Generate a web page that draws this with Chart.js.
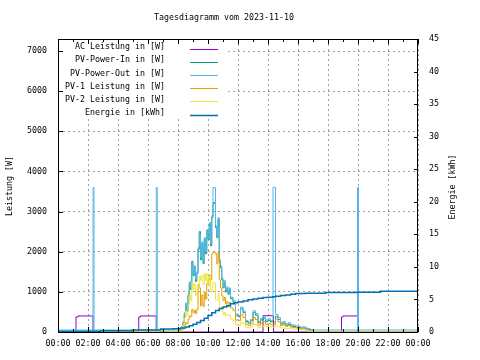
<!DOCTYPE html>
<html>
<head>
<meta charset="utf-8">
<script src="https://cdn.jsdelivr.net/npm/chart.js@4/dist/chart.umd.min.js"></script>
<style>
  html, body { margin: 0; padding: 0; background: #fff; }
  canvas { display: block; }
</style>
</head>
<body>
<canvas id="tagesChart" width="480" height="360"></canvas>
<script>
// --- data ---
const chartTitle = 'Tagesdiagramm vom 2023-11-10';
const seriesNames = ['AC Leistung in [W]', 'PV-Power-In in [W]', 'PV-Power-Out in [W]',
    'PV-1 Leistung in [W]', 'PV-2 Leistung in [W]', 'Energie in [kWh]'];
const seriesColors = ['#9400d3', '#009e73', '#56b4e9', '#e69f00', '#f0e442', '#0072b2'];

const powerTicks = [0, 1000, 2000, 3000, 4000, 5000, 6000, 7000];
const energyTicks = [0, 5, 10, 15, 20, 25, 30, 35, 40, 45];
const hourTicks = [0, 2, 4, 6, 8, 10, 12, 14, 16, 18, 20, 22, 24];

// daytime samples
const dayTimes = ['08:00', '08:05', '08:10', '08:15', '08:20', '08:25', '08:30', '08:35', '08:40', '08:45',
    '08:50', '08:55', '09:00', '09:05', '09:10', '09:15', '09:20', '09:25', '09:30', '09:35',
    '09:40', '09:45', '09:50', '09:55', '10:00', '10:05', '10:10', '10:15', '10:20', '10:25',
    '10:30', '10:35', '10:40', '10:45', '10:50', '10:55', '11:00', '11:05', '11:10', '11:15',
    '11:20', '11:25', '11:30', '11:40', '11:50', '12:00', '12:10', '12:20', '12:30', '12:40',
    '12:50', '13:00', '13:10', '13:20', '13:30', '13:40', '13:50', '14:00', '14:10', '14:20',
    '14:30', '14:40', '14:50', '15:00', '15:10', '15:20', '15:30', '15:40', '15:50', '16:00',
    '16:10', '16:20', '16:30', '16:40', '16:50', '17:00'];
const pvOutDay = [60, 70, 90, 140, 260, 480, 720, 560, 950, 1250,
    1100, 1700, 1450, 1650, 1300, 1500, 2100, 2450, 1850, 2250,
    1750, 2350, 2000, 2550, 2350, 2730, 2200, 2900, 3600, 3600,
    2650, 2400, 2850, 1800, 1650, 1350, 1150, 1280, 1050, 1130,
    980, 1100, 870, 780, 450, 410, 620, 520, 290, 250,
    310, 530, 460, 260, 340, 380, 300, 330, 290, 3600,
    440, 360, 240, 260, 200, 230, 180, 170, 150, 140,
    120, 130, 100, 80, 60, 50];
const pvInDay = [20, 40, 60, 110, 230, 440, 680, 520, 900, 1200,
    1060, 1760, 1400, 1600, 1260, 1460, 2060, 2500, 1800, 2200,
    1710, 2300, 1950, 2520, 2300, 2680, 2150, 2850, 3230, 3200,
    2600, 2350, 2800, 1750, 1600, 1300, 1100, 1230, 1000, 1080,
    940, 1050, 830, 740, 420, 380, 580, 480, 260, 220,
    280, 490, 420, 230, 300, 340, 260, 290, 250, 250,
    390, 310, 200, 220, 170, 190, 150, 140, 120, 110,
    100, 100, 80, 60, 30, 0];
const pv1Day = [10, 20, 30, 50, 90, 170, 240, 200, 320, 400,
    380, 560, 480, 540, 460, 560, 1180, 1100, 650, 920,
    640, 980, 820, 1200, 1300, 1420, 1300, 1950, 1990, 1980,
    1950, 1700, 1990, 1300, 1100, 900, 780, 860, 700, 760,
    640, 740, 600, 540, 300, 280, 430, 360, 190, 160,
    200, 360, 310, 170, 220, 250, 190, 210, 180, 180,
    320, 250, 160, 180, 140, 160, 120, 110, 100, 90,
    70, 80, 50, 30, 10, 0];
const pv2Day = [10, 20, 40, 100, 190, 340, 520, 400, 680, 920,
    780, 1240, 1050, 1200, 910, 1020, 1070, 1380, 1290, 1410,
    1190, 1460, 1280, 1450, 1150, 1400, 990, 1050, 1240, 1220,
    800, 800, 960, 580, 620, 520, 430, 480, 410, 430,
    400, 420, 320, 290, 180, 160, 230, 200, 120, 110,
    130, 200, 180, 110, 140, 150, 130, 140, 130, 120,
    150, 130, 100, 100, 80, 90, 80, 70, 60, 60,
    50, 50, 40, 30, 20, 0];

// night values and spikes
const outNightTimes = ['00:00', '02:20', '02:24', '06:33', '06:37', '19:58', '20:02', '24:00'];
const outNightValues = [50, 3600, 50, 3600, 50, 3600, 50, 50];
const pvNightTimes = ['00:00', '24:00'];
const pvNightValues = [0, 0];

const acTimes = ['00:00', '01:12', '01:20', '02:20', '05:23', '05:30', '06:33', '13:40', '14:22',
    '18:54', '19:00', '19:58', '24:00'];
const acValues = [0, 375, 400, 0, 375, 400, 0, 405, 0, 375, 400, 0, 0];

const energyTimes = ['00:00', '02:50', '05:00', '06:50', '07:40', '08:10', '08:30', '08:45', '09:00',
    '09:15', '09:30', '09:45', '10:00', '10:15', '10:30', '10:45', '11:00', '11:15', '11:30',
    '11:45', '12:00', '12:20', '12:40', '13:00', '13:20', '13:40', '14:00', '14:20', '14:30',
    '14:50', '15:10', '15:30', '15:50', '16:30', '17:50', '19:55', '21:30', '24:00'];
const energyValues = [0.1, 0.2, 0.3, 0.45, 0.5, 0.6, 0.75, 0.95, 1.2,
    1.45, 1.75, 2.1, 2.55, 2.95, 3.3, 3.6, 3.85, 4.05, 4.35,
    4.5, 4.6, 4.75, 4.95, 5.05, 5.2, 5.3, 5.35, 5.4, 5.5,
    5.6, 5.7, 5.8, 5.9, 5.95, 6.05, 6.1, 6.25, 6.25];

// --- helpers ---
function toHours(t) {
    const [h, m] = t.split(':').map(Number);
    return h + m / 60;
}

function points(times, values) {
    return times.map((t, i) => ({ x: toHours(t), y: values[i] }));
}

function merged(timesA, valuesA, timesB, valuesB) {
    return points(timesA, valuesA).concat(points(timesB, valuesB)).sort((a, b) => a.x - b.x);
}

const monoFont = '"DejaVu Sans Mono", "Liberation Mono", monospace';
const fontSize = 8.3;

function dataset(idx, data, axis, width) {
    return {
        label: seriesNames[idx],
        data: data,
        yAxisID: axis,
        borderColor: seriesColors[idx],
        backgroundColor: seriesColors[idx],
        borderWidth: width,
        pointRadius: 0,
        stepped: true,
        fill: false,
        order: 6 - idx
    };
}

// draws title, axis titles, opaque key, border and tics like the original plot
const framePlugin = {
    id: 'framePlugin',
    beforeDatasetsDraw(chart) {
        const { ctx, chartArea: a } = chart;
        ctx.save();
        ctx.fillStyle = '#ffffff';
        ctx.fillRect(a.left + 1, a.top + 1, 224 - a.left, 117 - a.top);
        ctx.restore();
    },
    afterDraw(chart) {
        const { ctx, chartArea: a, scales } = chart;
        ctx.save();
        ctx.font = fontSize + 'px ' + monoFont;
        ctx.fillStyle = '#000';

        // title
        ctx.textAlign = 'center';
        ctx.textBaseline = 'middle';
        ctx.fillText(chartTitle, 224, 18);

        // axis titles (both read bottom to top)
        ctx.save();
        ctx.translate(10, 186);
        ctx.rotate(-Math.PI / 2);
        ctx.fillText('Leistung [W]', 0, 0);
        ctx.restore();
        ctx.save();
        ctx.translate(453, 187);
        ctx.rotate(-Math.PI / 2);
        ctx.fillText('Energie [kWh]', 0, 0);
        ctx.restore();

        // key
        ctx.textAlign = 'right';
        seriesNames.forEach((name, i) => {
            const y = 47 + i * 13.2;
            ctx.fillStyle = '#000';
            ctx.fillText(name, 165, y);
            ctx.strokeStyle = seriesColors[i];
            ctx.lineWidth = i === 5 ? 1.5 : 1;
            ctx.beginPath();
            ctx.moveTo(190, Math.round(y + 1.5) + 0.5);
            ctx.lineTo(218, Math.round(y + 1.5) + 0.5);
            ctx.stroke();
        });

        // border
        ctx.strokeStyle = '#000';
        ctx.lineWidth = 1;
        ctx.strokeRect(a.left + 0.5, a.top + 0.5, a.right - a.left - 1, a.bottom - a.top);

        ctx.beginPath();
        powerTicks.forEach(v => {
            const y = Math.round(scales.y.getPixelForValue(v)) + 0.5;
            ctx.moveTo(a.left, y);
            ctx.lineTo(a.left + 5, y);
        });
        energyTicks.forEach(v => {
            const y = Math.round(scales.y2.getPixelForValue(v)) + 0.5;
            ctx.moveTo(a.right, y);
            ctx.lineTo(a.right - 4, y);
        });
        for (let h = 0; h <= 24; h++) {
            const x = Math.round(scales.x.getPixelForValue(h)) + 0.5;
            const len = h % 2 === 0 ? 5 : 3;
            ctx.moveTo(x, a.bottom);
            ctx.lineTo(x, a.bottom - len);
            ctx.moveTo(x, a.top);
            ctx.lineTo(x, a.top + len);
        }
        ctx.stroke();
        ctx.restore();
    }
};

const tickFont = { family: monoFont, size: fontSize };

new Chart(document.getElementById('tagesChart').getContext('2d'), {
    type: 'line',
    data: {
        datasets: [
            dataset(0, points(acTimes, acValues), 'y', 1),
            dataset(1, merged(dayTimes, pvInDay, pvNightTimes, pvNightValues), 'y', 1),
            dataset(2, merged(dayTimes, pvOutDay, outNightTimes, outNightValues), 'y', 1),
            dataset(3, merged(dayTimes, pv1Day, pvNightTimes, pvNightValues), 'y', 1),
            dataset(4, merged(dayTimes, pv2Day, pvNightTimes, pvNightValues), 'y', 1),
            dataset(5, points(energyTimes, energyValues), 'y2', 1.5)
        ]
    },
    options: {
        responsive: false,
        animation: false,
        layout: { padding: { top: 39, left: 0, right: 0, bottom: 0 } },
        plugins: {
            legend: { display: false },
            title: { display: false },
            tooltip: { enabled: false }
        },
        scales: {
            x: {
                type: 'linear',
                min: 0,
                max: 24,
                afterBuildTicks: s => { s.ticks = hourTicks.map(v => ({ value: v })); },
                ticks: {
                    font: tickFont,
                    color: '#000',
                    padding: 7,
                    maxRotation: 0,
                    autoSkip: false,
                    callback: v => String(v % 24).padStart(2, '0') + ':00'
                },
                grid: { color: '#a0a0a0', lineWidth: 1, drawTicks: false },
                border: { display: false, dash: [2, 3] },
                afterFit: s => { s.height = 28; }
            },
            y: {
                position: 'left',
                min: 0,
                max: 7300,
                afterBuildTicks: s => { s.ticks = powerTicks.map(v => ({ value: v })); },
                ticks: { font: tickFont, color: '#000', padding: 11, callback: v => String(v) },
                grid: { color: '#a0a0a0', lineWidth: 1, drawTicks: false },
                border: { display: false, dash: [2, 3] },
                afterFit: s => { s.width = 58; }
            },
            y2: {
                position: 'right',
                min: 0,
                max: 45,
                afterBuildTicks: s => { s.ticks = energyTicks.map(v => ({ value: v })); },
                ticks: { font: tickFont, color: '#000', padding: 11, callback: v => String(v) },
                grid: { display: false, drawTicks: false },
                border: { display: false },
                afterFit: s => { s.width = 62; }
            }
        }
    },
    plugins: [framePlugin]
});
</script>
</body>
</html>
